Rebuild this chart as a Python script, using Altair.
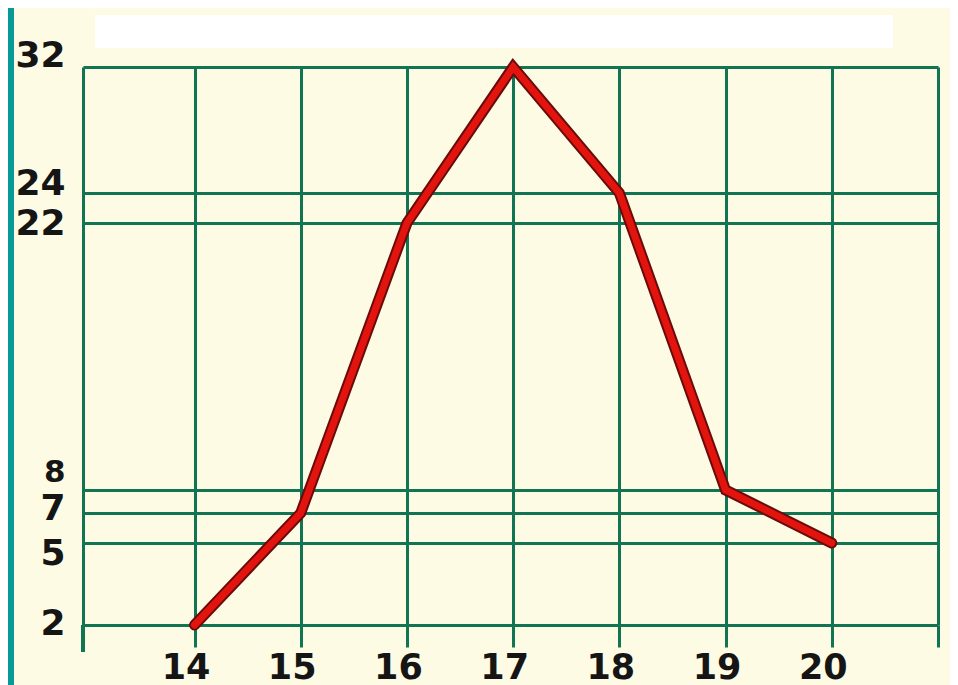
import altair as alt
import pandas as pd

# data
days = [14, 15, 16, 17, 18, 19, 20]
values = [2, 7, 22, 32, 24, 8, 5]
y_ticks = [2, 5, 7, 8, 22, 24, 32]
x_ticks = [14, 15, 16, 17, 18, 19, 20]

df = pd.DataFrame({"day": days, "value": values})

W, H = 855, 558
GREEN = "#117553"
RED = "#e3140e"
DARK = "#6a0b0b"
CREAM = "#fefbe4"
TEAL = "#079a96"
FONT = "DejaVu Sans"

x_scale = alt.Scale(domain=[12.95, 21], nice=False, zero=False)
# hand-drawn, unevenly spaced vertical axis -> piecewise scale
y_scale = alt.Scale(domain=y_ticks, range=[558, 476, 446, 423, 156, 126, 0],
                    nice=False, zero=False)

label_offsets = {32: -12, 24: -10, 22: 0, 8: -18, 7: -5, 5: 10, 2: -2}
y_label_offset = {
    "condition": [{"test": f"datum.value == {k}", "value": v} for k, v in label_offsets.items()],
    "value": 0,
}
y_label_size = {
    "condition": [{"test": "datum.value == 8", "value": 31}],
    "value": 36,
}

x_axis = alt.Axis(
    values=[12.95] + x_ticks + [21],
    labelExpr="datum.value >= 14 && datum.value <= 20 ? datum.label : ''",
    grid=True, gridColor=GREEN, gridWidth=3, gridOpacity=1,
    domain=False, ticks=True, tickColor=GREEN, tickWidth=3, tickSize=22,
    labelFont=FONT, labelFontSize=35, labelFontWeight="bold", labelColor="#151515",
    labelPadding=3, labelOffset=-9, labelOverlap=False, title=None,
)
y_axis = alt.Axis(
    values=y_ticks,
    grid=True, gridColor=GREEN, gridWidth=3, gridOpacity=1,
    domain=False, ticks=False,
    labelFont=FONT, labelFontSize=y_label_size, labelFontWeight="bold", labelColor="#151515",
    labelPadding=18, labelBaseline="middle", labelOffset=y_label_offset,
    labelOverlap=False, labelBound=False, title=None,
)

base = alt.Chart(df).encode(
    x=alt.X("day:Q", scale=x_scale, axis=x_axis),
    y=alt.Y("value:Q", scale=y_scale, axis=y_axis),
)

under = base.mark_line(color=DARK, strokeWidth=11, strokeCap="round")
line = base.mark_line(color=RED, strokeWidth=7, strokeCap="round")

teal_strip = alt.Chart(df).mark_rect(color=TEAL).encode(
    x=alt.value(-75), x2=alt.value(-69), y=alt.value(-59), y2=alt.value(640)
)
white_box = alt.Chart(df).mark_rect(color="white").encode(
    x=alt.value(12), x2=alt.value(810), y=alt.value(-52), y2=alt.value(-19)
)
left_ext = alt.Chart(df).mark_rule(color=GREEN, strokeWidth=3).encode(
    x=alt.value(0), y=alt.value(H), y2=alt.value(H + 27)
)

chart = alt.layer(teal_strip, white_box, left_ext, under, line).properties(
    width=W, height=H,
    autosize=alt.AutoSizeParams(type="none"),
    padding={"left": 75, "top": 59, "right": 12, "bottom": 75},
    background=CREAM,
).configure_view(stroke=None)

chart.save("out.html", embed_options={"renderer": "svg", "actions": False})
